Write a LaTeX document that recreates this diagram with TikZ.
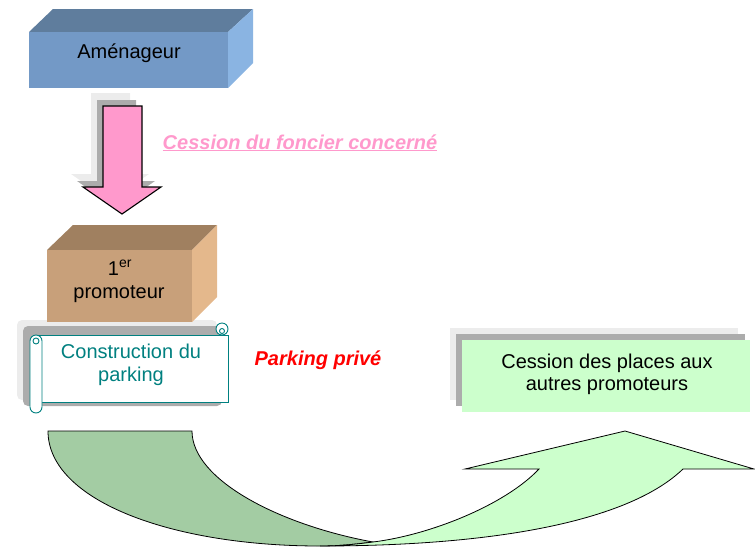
\documentclass[tikz,border=0pt]{standalone}
\usepackage{fontspec}
\setmainfont{Liberation Sans}
\definecolor{amfront}{RGB}{115,153,198}
\definecolor{amtop}{RGB}{95,125,157}
\definecolor{amright}{RGB}{138,180,226}
\definecolor{prfront}{RGB}{200,160,122}
\definecolor{prtop}{RGB}{160,128,96}
\definecolor{prright}{RGB}{228,184,140}
\definecolor{pinkfill}{RGB}{255,153,204}
\definecolor{scrollteal}{RGB}{0,128,128}
\definecolor{darkgreen}{RGB}{163,204,163}
\definecolor{lightgreen}{RGB}{204,255,204}
\definecolor{shadowlight}{RGB}{236,236,236}
\definecolor{shadowdark}{RGB}{172,172,172}
\tikzset{
  lbl/.style={font=\fontsize{20}{23}\selectfont, inner sep=0pt, anchor=base},
  emph/.style={lbl, font=\fontsize{20}{23}\selectfont\bfseries\itshape},
  shlight/.style={fill=shadowlight},
  shdark/.style={fill=shadowdark},
  outl/.style={draw=black, line width=1.1pt, line join=miter}
}
\begin{document}
\begin{tikzpicture}[x=1pt,y=-1pt]
\useasboundingbox (0,0) rectangle (755,547);

% Amenageur box
\fill[amtop] (29,32) -- (53,9) -- (253,9) -- (228,32) -- cycle;
\fill[amright] (228,32) -- (253,9) -- (253,63) -- (228,88) -- cycle;
\fill[amfront] (29,32) rectangle (228,88);
\node[lbl] (am) at (129,58) {Aménageur};

% pink arrow with shadows
\begin{scope}[shift={(-12,-13)}]
\fill[shlight] (103,106) -- (142,106) -- (142,187) -- (161,187) -- (122,214) -- (83,187) -- (103,187) -- cycle;
\end{scope}
\begin{scope}[shift={(-6,-6)}]
\fill[shdark] (103,106) -- (142,106) -- (142,187) -- (161,187) -- (122,214) -- (83,187) -- (103,187) -- cycle;
\end{scope}
\filldraw[fill=pinkfill, outl] (103,106) -- (142,106) -- (142,187) -- (161,187) -- (122,214) -- (83,187) -- (103,187) -- cycle;
\node[emph, text=pinkfill] (cf) at (300,149) {\underline{Cession du foncier concerné}};

% scroll shadows
\fill[shlight, rounded corners=5] (17,320) rectangle (217,400);
\fill[shdark, rounded corners=5] (23,326) rectangle (222,406);

% promoteur box
\fill[prtop] (47,250) -- (73,225) -- (217,225) -- (192,250) -- cycle;
\fill[prright] (192,250) -- (217,225) -- (217,297) -- (192,322) -- cycle;
\fill[prfront] (47,250) rectangle (192,322);
\node[lbl] (p1) at (120,275) {1\textsuperscript{er}};
\node[lbl] (p2) at (119,298) {promoteur};

% scroll
\filldraw[fill=white, draw=scrollteal, line width=0.9pt] (36,335) rectangle (228,402);
\filldraw[fill=white, draw=scrollteal, line width=0.9pt] (222,329) circle (6);
\draw[scrollteal, line width=0.9pt] (222,331) circle (2.5);
\filldraw[fill=white, draw=scrollteal, line width=0.9pt, rounded corners=6] (30,335) rectangle (42,413);
\draw[scrollteal, line width=0.9pt] (36,341) circle (3);
\node[lbl, text=scrollteal] (c1) at (131,358) {Construction du};
\node[lbl, text=scrollteal] (c2) at (131,381) {parking};

% Parking prive
\node[emph, text=red] (pp) at (318,365) {Parking privé};

% green box
\fill[shlight] (450,328) rectangle (738,400);
\fill[shdark] (456,334) rectangle (745,406);
\fill[lightgreen] (462,340) rectangle (750,412);
\node[lbl] (g1) at (607,368) {Cession des places aux};
\node[lbl] (g2) at (607,390) {autres promoteurs};

% curved arrow
\filldraw[fill=darkgreen, draw=black, line width=0.8pt]
  (48,431) -- (192,431) .. controls (192,480) and (280,525) .. (373,542)
  .. controls (350,545) and (335,546) .. (320,546)
  .. controls (170,546) and (48,500) .. (48,431) -- cycle;
\filldraw[fill=lightgreen, draw=black, line width=0.8pt]
  (320,546) .. controls (500,546) and (630,520) .. (683,469)
  -- (754,469) -- (625,431) -- (465,469) -- (539,469)
  .. controls (505,505) and (430,535) .. (373,542)
  .. controls (350,545) and (335,546) .. (320,546) -- cycle;
\end{tikzpicture}
\end{document}
